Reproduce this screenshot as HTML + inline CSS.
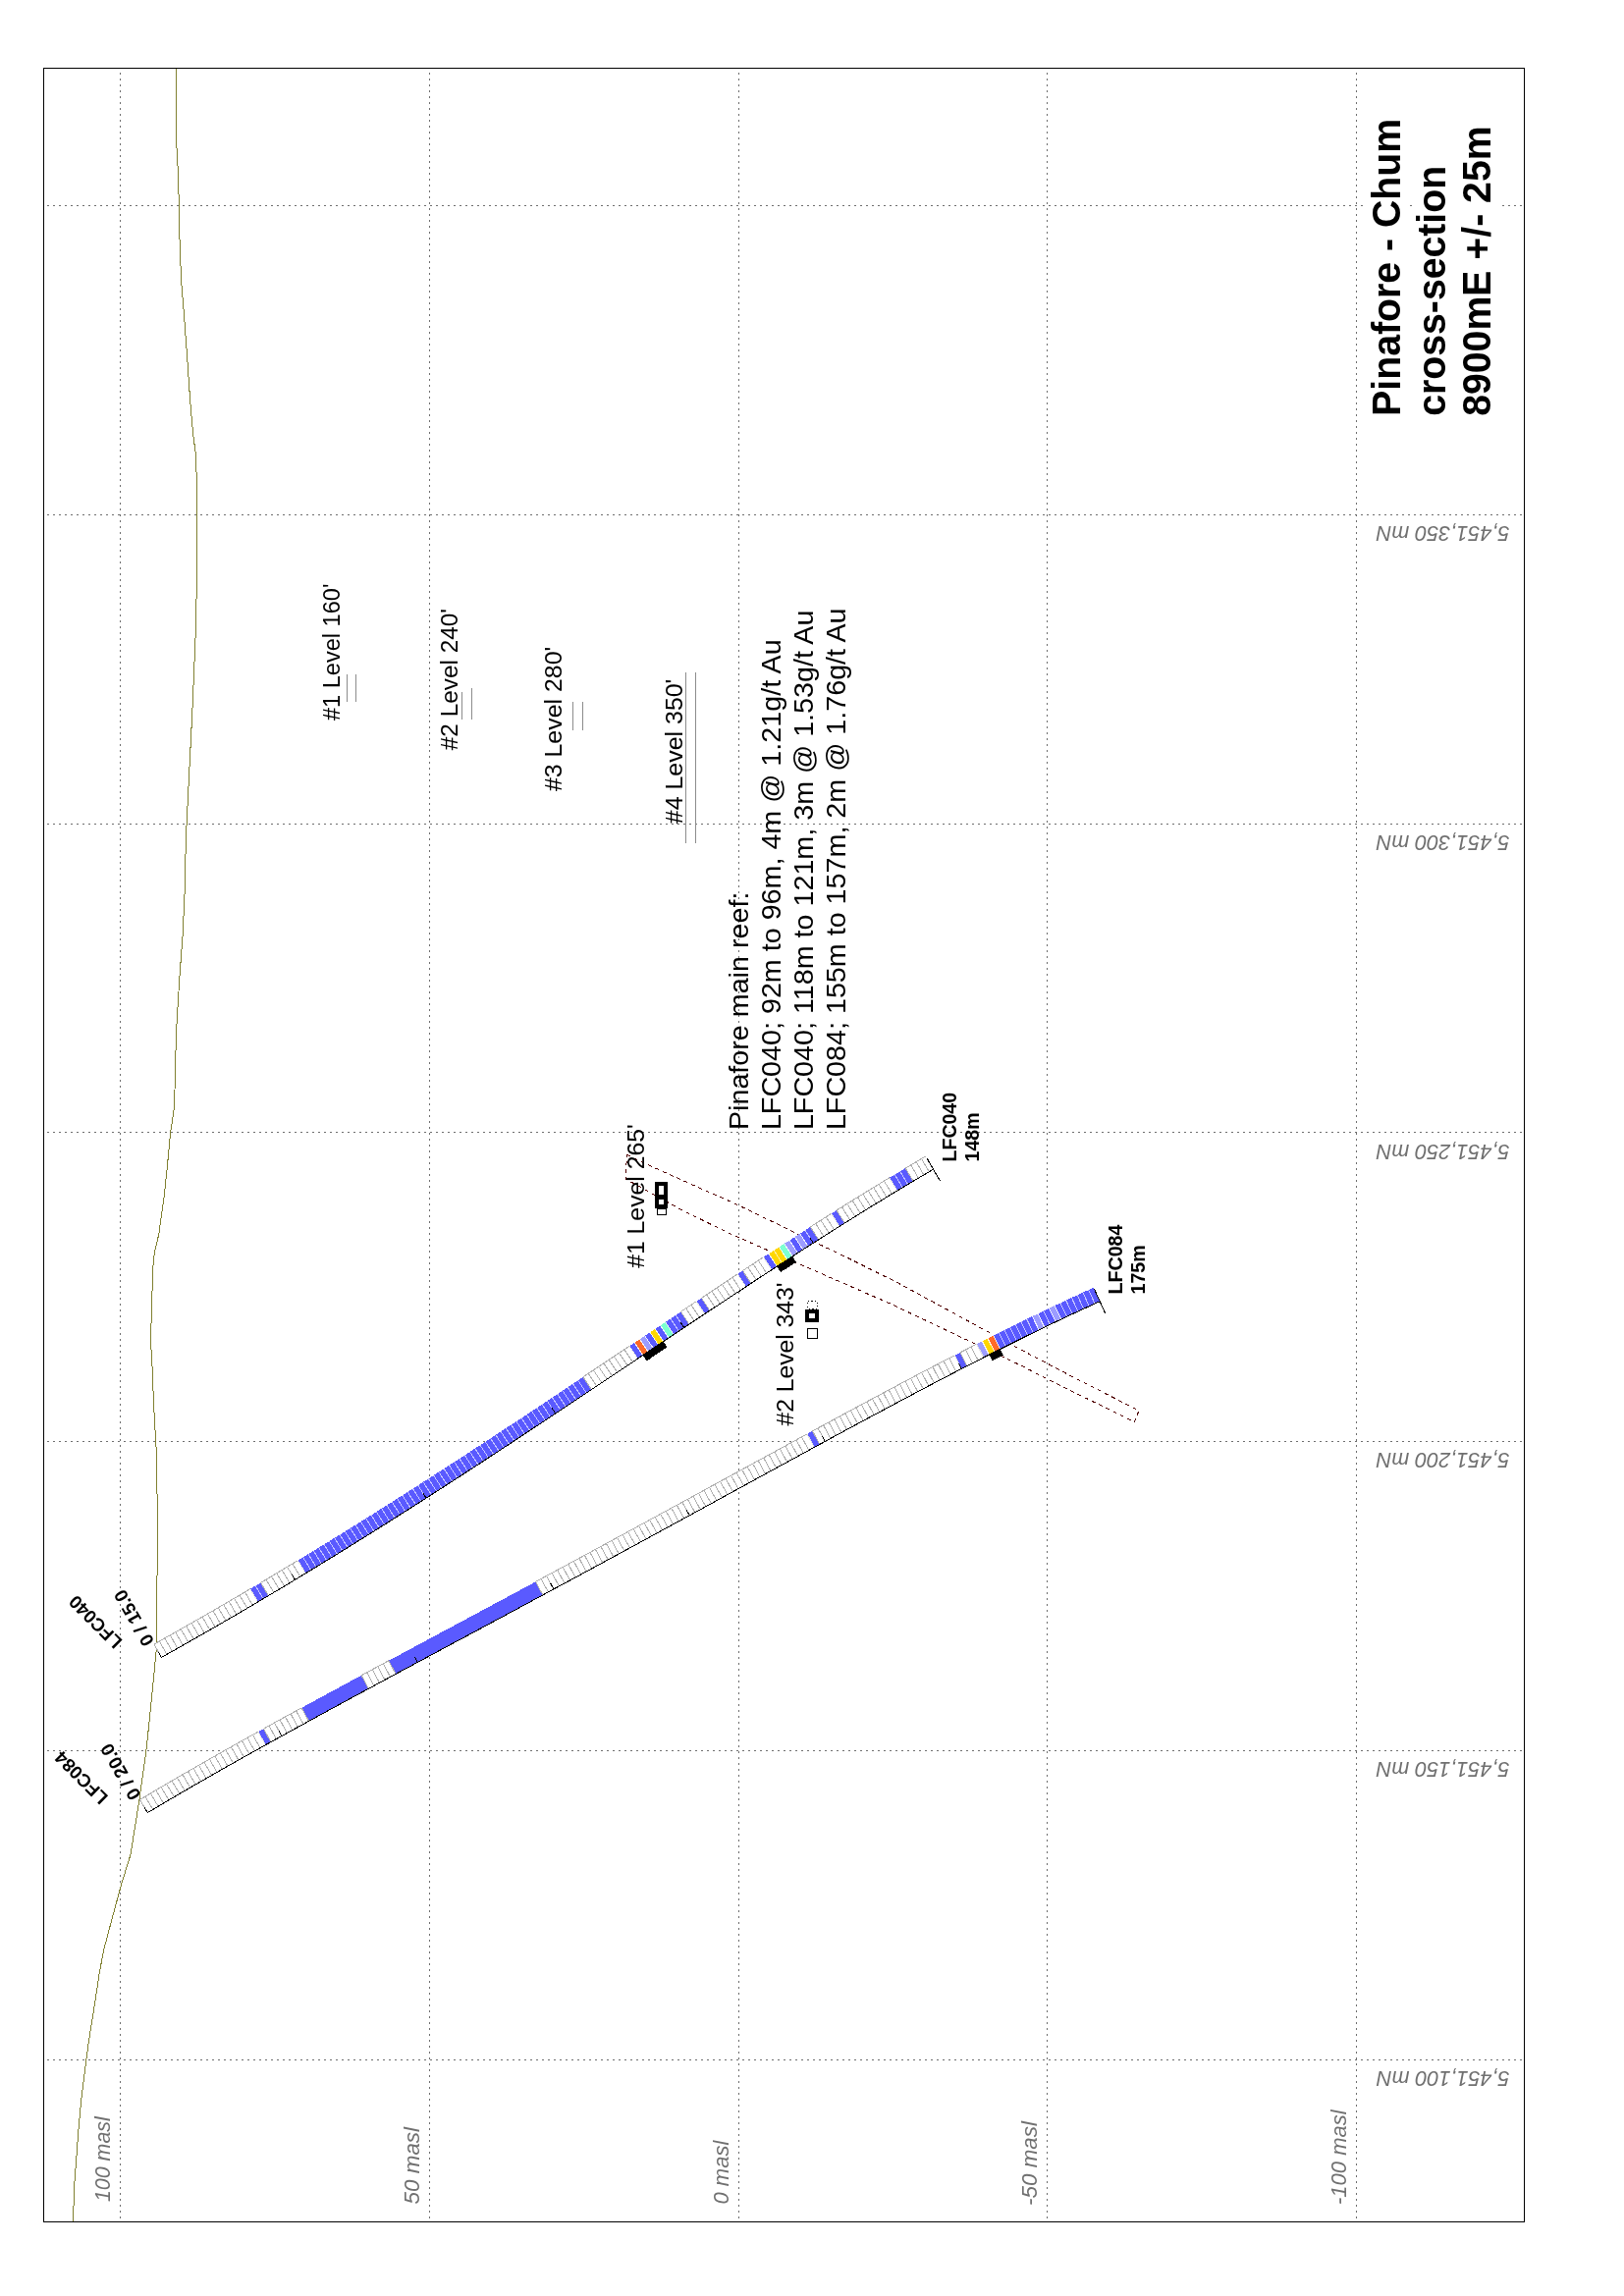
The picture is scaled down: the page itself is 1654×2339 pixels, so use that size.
<!DOCTYPE html>
<html><head><meta charset="utf-8"><title>Pinafore - Chum cross-section</title><style>html,body{margin:0;padding:0;background:#fff;width:1654px;height:2339px;overflow:hidden}svg{display:block;will-change:transform}</style></head><body>
<svg width="1654" height="2339" viewBox="0 0 1654 2339"><style>polyline,polygon,line,path,rect{shape-rendering:crispEdges}</style>
<line x1="122.5" y1="70" x2="122.5" y2="2263" stroke="#6e6e6e" stroke-width="1" stroke-dasharray="2 4" stroke-dashoffset="-4"/>
<line x1="437.5" y1="70" x2="437.5" y2="2263" stroke="#6e6e6e" stroke-width="1" stroke-dasharray="2 4" stroke-dashoffset="-4"/>
<line x1="752.5" y1="70" x2="752.5" y2="2263" stroke="#6e6e6e" stroke-width="1" stroke-dasharray="2 4" stroke-dashoffset="-4"/>
<line x1="1066.5" y1="70" x2="1066.5" y2="2263" stroke="#6e6e6e" stroke-width="1" stroke-dasharray="2 4" stroke-dashoffset="-4"/>
<line x1="1381.5" y1="70" x2="1381.5" y2="2263" stroke="#6e6e6e" stroke-width="1" stroke-dasharray="2 4" stroke-dashoffset="-4"/>
<line x1="45" y1="209.5" x2="1388" y2="209.5" stroke="#6e6e6e" stroke-width="1" stroke-dasharray="2 4" stroke-dashoffset="-3"/>
<line x1="1432" y1="209.5" x2="1438" y2="209.5" stroke="#6e6e6e" stroke-width="1" stroke-dasharray="2 4" stroke-dashoffset="-4"/>
<line x1="1530" y1="209.5" x2="1552" y2="209.5" stroke="#6e6e6e" stroke-width="1" stroke-dasharray="2 4" stroke-dashoffset="-0"/>
<line x1="45" y1="524.5" x2="1552" y2="524.5" stroke="#6e6e6e" stroke-width="1" stroke-dasharray="2 4" stroke-dashoffset="-3"/>
<line x1="45" y1="839.5" x2="1552" y2="839.5" stroke="#6e6e6e" stroke-width="1" stroke-dasharray="2 4" stroke-dashoffset="-3"/>
<line x1="45" y1="1153.5" x2="1552" y2="1153.5" stroke="#6e6e6e" stroke-width="1" stroke-dasharray="2 4" stroke-dashoffset="-3"/>
<line x1="45" y1="1468.5" x2="1552" y2="1468.5" stroke="#6e6e6e" stroke-width="1" stroke-dasharray="2 4" stroke-dashoffset="-3"/>
<line x1="45" y1="1783.5" x2="1552" y2="1783.5" stroke="#6e6e6e" stroke-width="1" stroke-dasharray="2 4" stroke-dashoffset="-3"/>
<line x1="45" y1="2098.5" x2="1552" y2="2098.5" stroke="#6e6e6e" stroke-width="1" stroke-dasharray="2 4" stroke-dashoffset="-3"/>
<rect x="44.5" y="69.5" width="1508" height="2194" fill="none" stroke="#000" stroke-width="1"/>
<polyline points="179.6,69.5 179.6,143.8 181.1,171 182.2,203.7 182.8,238.6 183.9,269 185,290.8 187.2,317 190.4,360.5 193.7,408.4 196.5,441 199.1,460.7 200.2,484.7 200.2,602.3 199.1,648 195.9,724.2 192.6,789.5 189.3,854.9 188.3,905 186.1,952.9 182.8,996.4 179.6,1050 179.1,1066 178,1109.7 177,1131.5 173.7,1153.2 170.4,1188 167.2,1218.6 161.7,1257.8 157.4,1275.2 155.7,1292.6 154.1,1344.9 153.5,1366.7 155.2,1395 156.3,1425.5 157.8,1453.8 159.6,1484.3 160.2,1540 160.2,1577.9 159.8,1638.9 159.1,1682.4 154.8,1726 149.3,1780.4 141.7,1834.9 133,1889.3 123.5,1920 113.2,1958.1 105.5,1987.1 101,2011.5 96.4,2042 90.3,2080.1 87.3,2102.9 83.4,2133.4 80.4,2163.9 78.1,2194.4 75.8,2224.9 74.8,2253.1 74.6,2263" fill="none" stroke="#808030" stroke-width="1"/>
<polygon points="638.5,1176.3 656.9,1185.3 719.9,1213.5 748.4,1226.1 864.4,1282 914.5,1306.9 1041.5,1375.9 1097.6,1405.3 1160,1437 1155.4,1448.5 1070.8,1407.1 1042,1392.1 905,1327.3 861.5,1308.4 744.1,1257.1 693.5,1232.2 637.2,1201" fill="none" stroke="#500000" stroke-width="1" stroke-dasharray="4 4"/>
<polygon points="164.4,1688.45 169.89,1685.38 175.38,1682.29 180.87,1679.2 186.35,1676.1 191.82,1673 197.29,1669.88 202.76,1666.76 208.23,1663.63 213.69,1660.5 219.14,1657.35 224.59,1654.2 230.04,1651.05 235.48,1647.88 240.92,1644.71 246.36,1641.53 251.79,1638.34 257.21,1635.15 262.63,1631.95 254.8,1618.69 249.39,1621.88 243.98,1625.07 238.57,1628.24 233.15,1631.41 227.73,1634.57 222.31,1637.73 216.88,1640.88 211.44,1644.02 206.01,1647.15 200.57,1650.27 195.12,1653.39 189.67,1656.5 184.22,1659.61 178.76,1662.7 173.29,1665.79 167.83,1668.87 162.36,1671.95 156.88,1675.01" fill="#ffffff"/>
<polygon points="262.63,1631.95 268.05,1628.74 273.46,1625.53 265.59,1612.29 260.2,1615.5 254.8,1618.69" fill="#5a5aff"/>
<polygon points="273.46,1625.53 278.87,1622.31 284.28,1619.08 289.68,1615.84 295.08,1612.6 300.47,1609.35 305.86,1606.1 311.25,1602.84 303.26,1589.67 297.89,1592.92 292.52,1596.17 287.14,1599.41 281.76,1602.64 276.38,1605.86 270.99,1609.08 265.59,1612.29" fill="#ffffff"/>
<polygon points="311.25,1602.84 316.63,1599.57 322,1596.29 327.38,1593.01 332.75,1589.73 338.11,1586.43 343.48,1583.13 348.83,1579.83 354.19,1576.51 359.54,1573.19 364.89,1569.87 370.23,1566.54 375.57,1563.2 380.9,1559.86 386.24,1556.52 391.57,1553.16 396.89,1549.8 402.21,1546.44 407.53,1543.07 412.85,1539.7 418.16,1536.32 423.47,1532.93 428.77,1529.54 434.08,1526.15 439.38,1522.75 444.67,1519.35 449.97,1515.94 455.26,1512.52 460.54,1509.11 465.83,1505.68 471.11,1502.26 476.39,1498.83 481.67,1495.39 486.94,1491.96 492.21,1488.51 497.48,1485.07 502.75,1481.62 508.02,1478.17 513.28,1474.71 518.54,1471.25 523.8,1467.79 529.05,1464.32 534.31,1460.86 539.56,1457.38 544.81,1453.91 550.06,1450.43 555.31,1446.96 560.56,1443.48 565.8,1439.99 571.04,1436.51 576.29,1433.02 581.53,1429.53 586.77,1426.04 592,1422.55 597.24,1419.05 602.48,1415.56 593.93,1402.75 588.7,1406.24 583.46,1409.73 578.23,1413.22 572.99,1416.71 567.75,1420.2 562.52,1423.68 557.28,1427.17 552.04,1430.64 546.8,1434.12 541.56,1437.6 536.31,1441.07 531.07,1444.54 525.82,1448.01 520.57,1451.47 515.32,1454.93 510.07,1458.39 504.82,1461.84 499.57,1465.29 494.31,1468.74 489.05,1472.18 483.79,1475.62 478.53,1479.06 473.26,1482.49 468,1485.92 462.73,1489.34 457.45,1492.76 452.18,1496.18 446.9,1499.59 441.62,1502.99 436.34,1506.39 431.06,1509.79 425.77,1513.18 420.48,1516.57 415.18,1519.95 409.89,1523.33 404.59,1526.7 399.28,1530.07 393.98,1533.43 388.67,1536.78 383.36,1540.13 378.04,1543.48 372.72,1546.82 367.4,1550.15 362.08,1553.48 356.75,1556.8 351.41,1560.11 346.08,1563.42 340.74,1566.72 335.4,1570.02 330.05,1573.31 324.7,1576.6 319.34,1579.87 313.99,1583.15 308.63,1586.41 303.26,1589.67" fill="#5a5aff"/>
<polygon points="602.48,1415.56 607.72,1412.06 612.95,1408.57 618.19,1405.07 623.42,1401.57 628.65,1398.07 633.89,1394.57 639.12,1391.07 644.35,1387.57 649.59,1384.07 641.03,1371.27 635.79,1374.77 630.56,1378.27 625.33,1381.77 620.09,1385.27 614.86,1388.77 609.63,1392.26 604.4,1395.76 599.16,1399.26 593.93,1402.75" fill="#ffffff"/>
<polygon points="649.59,1384.07 654.82,1380.57 646.26,1367.77 641.03,1371.27" fill="#5a5aff"/>
<polygon points="654.82,1380.57 660.05,1377.07 651.49,1364.27 646.26,1367.77" fill="#ff6a28"/>
<polygon points="660.05,1377.07 665.29,1373.57 656.73,1360.77 651.49,1364.27" fill="#9d9dff"/>
<polygon points="665.29,1373.57 670.52,1370.07 661.97,1357.27 656.73,1360.77" fill="#5a5aff"/>
<polygon points="670.52,1370.07 675.76,1366.57 667.2,1353.77 661.97,1357.27" fill="#ffd700"/>
<polygon points="675.76,1366.57 680.99,1363.08 672.44,1350.27 667.2,1353.77" fill="#5a5aff"/>
<polygon points="680.99,1363.08 686.23,1359.58 677.68,1346.77 672.44,1350.27" fill="#7dffd0"/>
<polygon points="686.23,1359.58 691.47,1356.09 696.7,1352.59 701.94,1349.1 693.41,1336.28 688.16,1339.78 682.92,1343.27 677.68,1346.77" fill="#5a5aff"/>
<polygon points="701.94,1349.1 707.18,1345.61 712.43,1342.12 717.67,1338.64 709.14,1325.81 703.9,1329.3 698.65,1332.79 693.41,1336.28" fill="#ffffff"/>
<polygon points="717.67,1338.64 722.91,1335.15 714.39,1322.32 709.14,1325.81" fill="#5a5aff"/>
<polygon points="722.91,1335.15 728.16,1331.67 733.41,1328.19 738.66,1324.72 743.91,1321.24 749.16,1317.78 754.42,1314.31 759.68,1310.85 751.21,1297.98 745.94,1301.45 740.68,1304.92 735.42,1308.4 730.16,1311.87 724.9,1315.35 719.65,1318.84 714.39,1322.32" fill="#ffffff"/>
<polygon points="759.68,1310.85 764.94,1307.39 756.48,1294.52 751.21,1297.98" fill="#5a5aff"/>
<polygon points="764.94,1307.39 770.2,1303.93 775.47,1300.48 780.74,1297.04 786.01,1293.6 777.6,1280.7 772.31,1284.15 767.03,1287.6 761.76,1291.06 756.48,1294.52" fill="#ffffff"/>
<polygon points="786.01,1293.6 791.28,1290.16 782.89,1277.25 777.6,1280.7" fill="#5a5aff"/>
<polygon points="791.28,1290.16 796.56,1286.73 801.85,1283.3 793.47,1270.38 788.18,1273.81 782.89,1277.25" fill="#ffd700"/>
<polygon points="801.85,1283.3 807.13,1279.88 798.77,1266.95 793.47,1270.38" fill="#7dffd0"/>
<polygon points="807.13,1279.88 812.42,1276.47 804.08,1263.53 798.77,1266.95" fill="#9d9dff"/>
<polygon points="812.42,1276.47 817.71,1273.06 809.38,1260.11 804.08,1263.53" fill="#5a5aff"/>
<polygon points="817.71,1273.06 823.01,1269.66 814.7,1256.69 809.38,1260.11" fill="#9d9dff"/>
<polygon points="823.01,1269.66 828.31,1266.26 833.62,1262.87 825.34,1249.89 820.02,1253.29 814.7,1256.69" fill="#5a5aff"/>
<polygon points="833.62,1262.87 838.93,1259.49 844.25,1256.12 849.57,1252.75 854.89,1249.39 846.68,1236.36 841.34,1239.73 836,1243.11 830.67,1246.5 825.34,1249.89" fill="#ffffff"/>
<polygon points="854.89,1249.39 860.22,1246.04 852.03,1232.99 846.68,1236.36" fill="#5a5aff"/>
<polygon points="860.22,1246.04 865.55,1242.69 870.89,1239.36 876.24,1236.03 881.59,1232.72 886.95,1229.41 892.31,1226.11 897.68,1222.82 903.06,1219.55 908.44,1216.28 913.83,1213.03 905.88,1199.84 900.47,1203.11 895.06,1206.39 889.66,1209.68 884.26,1212.98 878.87,1216.3 873.49,1219.62 868.12,1222.95 862.75,1226.29 857.39,1229.64 852.03,1232.99" fill="#ffffff"/>
<polygon points="913.83,1213.03 919.23,1209.78 924.63,1206.55 930.04,1203.33 922.18,1190.09 916.74,1193.33 911.31,1196.58 905.88,1199.84" fill="#5a5aff"/>
<polygon points="930.04,1203.33 935.46,1200.12 940.88,1196.93 946.32,1193.75 950.6,1191.25 942.86,1177.94 938.55,1180.45 933.09,1183.65 927.63,1186.86 922.18,1190.09" fill="#ffffff"/>
<polyline points="156.88,1675.01 162.36,1671.95 167.83,1668.87 173.29,1665.79 178.76,1662.7 184.22,1659.61 189.67,1656.5 195.12,1653.39 200.57,1650.27 206.01,1647.15 211.44,1644.02 216.88,1640.88 222.31,1637.73 227.73,1634.57 233.15,1631.41 238.57,1628.24 243.98,1625.07 249.39,1621.88 254.8,1618.69" fill="none" stroke="#b0b0b0" stroke-width="1"/>
<polyline points="265.59,1612.29 270.99,1609.08 276.38,1605.86 281.76,1602.64 287.14,1599.41 292.52,1596.17 297.89,1592.92 303.26,1589.67" fill="none" stroke="#b0b0b0" stroke-width="1"/>
<polyline points="593.93,1402.75 599.16,1399.26 604.4,1395.76 609.63,1392.26 614.86,1388.77 620.09,1385.27 625.33,1381.77 630.56,1378.27 635.79,1374.77 641.03,1371.27" fill="none" stroke="#b0b0b0" stroke-width="1"/>
<polyline points="693.41,1336.28 698.65,1332.79 703.9,1329.3 709.14,1325.81" fill="none" stroke="#b0b0b0" stroke-width="1"/>
<polyline points="714.39,1322.32 719.65,1318.84 724.9,1315.35 730.16,1311.87 735.42,1308.4 740.68,1304.92 745.94,1301.45 751.21,1297.98" fill="none" stroke="#b0b0b0" stroke-width="1"/>
<polyline points="756.48,1294.52 761.76,1291.06 767.03,1287.6 772.31,1284.15 777.6,1280.7" fill="none" stroke="#b0b0b0" stroke-width="1"/>
<polyline points="825.34,1249.89 830.67,1246.5 836,1243.11 841.34,1239.73 846.68,1236.36" fill="none" stroke="#b0b0b0" stroke-width="1"/>
<polyline points="852.03,1232.99 857.39,1229.64 862.75,1226.29 868.12,1222.95 873.49,1219.62 878.87,1216.3 884.26,1212.98 889.66,1209.68 895.06,1206.39 900.47,1203.11 905.88,1199.84" fill="none" stroke="#b0b0b0" stroke-width="1"/>
<polyline points="922.18,1190.09 927.63,1186.86 933.09,1183.65 938.55,1180.45 942.86,1177.94" fill="none" stroke="#b0b0b0" stroke-width="1"/>
<path d="M164.4 1688.45L156.88 1675.01M169.89 1685.38L162.36 1671.95M175.38 1682.29L167.83 1668.87M180.87 1679.2L173.29 1665.79M186.35 1676.1L178.76 1662.7M191.82 1673L184.22 1659.61M197.29 1669.88L189.67 1656.5M202.76 1666.76L195.12 1653.39M208.23 1663.63L200.57 1650.27M213.69 1660.5L206.01 1647.15M219.14 1657.35L211.44 1644.02M224.59 1654.2L216.88 1640.88M230.04 1651.05L222.31 1637.73M235.48 1647.88L227.73 1634.57M240.92 1644.71L233.15 1631.41M246.36 1641.53L238.57 1628.24M251.79 1638.34L243.98 1625.07M257.21 1635.15L249.39 1621.88M262.63 1631.95L254.8 1618.69" stroke="#b0b0b0" stroke-width="1" fill="none"/>
<path d="M262.63 1631.95L254.8 1618.69M268.05 1628.74L260.2 1615.5M273.46 1625.53L265.59 1612.29" stroke="rgba(255,255,255,0.65)" stroke-width="1" fill="none"/>
<path d="M273.46 1625.53L265.59 1612.29M278.87 1622.31L270.99 1609.08M284.28 1619.08L276.38 1605.86M289.68 1615.84L281.76 1602.64M295.08 1612.6L287.14 1599.41M300.47 1609.35L292.52 1596.17M305.86 1606.1L297.89 1592.92M311.25 1602.84L303.26 1589.67" stroke="#b0b0b0" stroke-width="1" fill="none"/>
<path d="M311.25 1602.84L303.26 1589.67M316.63 1599.57L308.63 1586.41M322 1596.29L313.99 1583.15M327.38 1593.01L319.34 1579.87M332.75 1589.73L324.7 1576.6M338.11 1586.43L330.05 1573.31M343.48 1583.13L335.4 1570.02M348.83 1579.83L340.74 1566.72M354.19 1576.51L346.08 1563.42M359.54 1573.19L351.41 1560.11M364.89 1569.87L356.75 1556.8M370.23 1566.54L362.08 1553.48M375.57 1563.2L367.4 1550.15M380.9 1559.86L372.72 1546.82M386.24 1556.52L378.04 1543.48M391.57 1553.16L383.36 1540.13M396.89 1549.8L388.67 1536.78M402.21 1546.44L393.98 1533.43M407.53 1543.07L399.28 1530.07M412.85 1539.7L404.59 1526.7M418.16 1536.32L409.89 1523.33M423.47 1532.93L415.18 1519.95M428.77 1529.54L420.48 1516.57M434.08 1526.15L425.77 1513.18M439.38 1522.75L431.06 1509.79M444.67 1519.35L436.34 1506.39M449.97 1515.94L441.62 1502.99M455.26 1512.52L446.9 1499.59M460.54 1509.11L452.18 1496.18M465.83 1505.68L457.45 1492.76M471.11 1502.26L462.73 1489.34M476.39 1498.83L468 1485.92M481.67 1495.39L473.26 1482.49M486.94 1491.96L478.53 1479.06M492.21 1488.51L483.79 1475.62M497.48 1485.07L489.05 1472.18M502.75 1481.62L494.31 1468.74M508.02 1478.17L499.57 1465.29M513.28 1474.71L504.82 1461.84M518.54 1471.25L510.07 1458.39M523.8 1467.79L515.32 1454.93M529.05 1464.32L520.57 1451.47M534.31 1460.86L525.82 1448.01M539.56 1457.38L531.07 1444.54M544.81 1453.91L536.31 1441.07M550.06 1450.43L541.56 1437.6M555.31 1446.96L546.8 1434.12M560.56 1443.48L552.04 1430.64M565.8 1439.99L557.28 1427.17M571.04 1436.51L562.52 1423.68M576.29 1433.02L567.75 1420.2M581.53 1429.53L572.99 1416.71M586.77 1426.04L578.23 1413.22M592 1422.55L583.46 1409.73M597.24 1419.05L588.7 1406.24M602.48 1415.56L593.93 1402.75" stroke="rgba(255,255,255,0.65)" stroke-width="1" fill="none"/>
<path d="M602.48 1415.56L593.93 1402.75M607.72 1412.06L599.16 1399.26M612.95 1408.57L604.4 1395.76M618.19 1405.07L609.63 1392.26M623.42 1401.57L614.86 1388.77M628.65 1398.07L620.09 1385.27M633.89 1394.57L625.33 1381.77M639.12 1391.07L630.56 1378.27M644.35 1387.57L635.79 1374.77M649.59 1384.07L641.03 1371.27" stroke="#b0b0b0" stroke-width="1" fill="none"/>
<path d="M649.59 1384.07L641.03 1371.27M654.82 1380.57L646.26 1367.77" stroke="rgba(255,255,255,0.65)" stroke-width="1" fill="none"/>
<path d="M654.82 1380.57L646.26 1367.77M660.05 1377.07L651.49 1364.27" stroke="rgba(255,255,255,0.65)" stroke-width="1" fill="none"/>
<path d="M660.05 1377.07L651.49 1364.27M665.29 1373.57L656.73 1360.77" stroke="rgba(255,255,255,0.65)" stroke-width="1" fill="none"/>
<path d="M665.29 1373.57L656.73 1360.77M670.52 1370.07L661.97 1357.27" stroke="rgba(255,255,255,0.65)" stroke-width="1" fill="none"/>
<path d="M670.52 1370.07L661.97 1357.27M675.76 1366.57L667.2 1353.77" stroke="rgba(255,255,255,0.65)" stroke-width="1" fill="none"/>
<path d="M675.76 1366.57L667.2 1353.77M680.99 1363.08L672.44 1350.27" stroke="rgba(255,255,255,0.65)" stroke-width="1" fill="none"/>
<path d="M680.99 1363.08L672.44 1350.27M686.23 1359.58L677.68 1346.77" stroke="rgba(255,255,255,0.65)" stroke-width="1" fill="none"/>
<path d="M686.23 1359.58L677.68 1346.77M691.47 1356.09L682.92 1343.27M696.7 1352.59L688.16 1339.78M701.94 1349.1L693.41 1336.28" stroke="rgba(255,255,255,0.65)" stroke-width="1" fill="none"/>
<path d="M701.94 1349.1L693.41 1336.28M707.18 1345.61L698.65 1332.79M712.43 1342.12L703.9 1329.3M717.67 1338.64L709.14 1325.81" stroke="#b0b0b0" stroke-width="1" fill="none"/>
<path d="M717.67 1338.64L709.14 1325.81M722.91 1335.15L714.39 1322.32" stroke="rgba(255,255,255,0.65)" stroke-width="1" fill="none"/>
<path d="M722.91 1335.15L714.39 1322.32M728.16 1331.67L719.65 1318.84M733.41 1328.19L724.9 1315.35M738.66 1324.72L730.16 1311.87M743.91 1321.24L735.42 1308.4M749.16 1317.78L740.68 1304.92M754.42 1314.31L745.94 1301.45M759.68 1310.85L751.21 1297.98" stroke="#b0b0b0" stroke-width="1" fill="none"/>
<path d="M759.68 1310.85L751.21 1297.98M764.94 1307.39L756.48 1294.52" stroke="rgba(255,255,255,0.65)" stroke-width="1" fill="none"/>
<path d="M764.94 1307.39L756.48 1294.52M770.2 1303.93L761.76 1291.06M775.47 1300.48L767.03 1287.6M780.74 1297.04L772.31 1284.15M786.01 1293.6L777.6 1280.7" stroke="#b0b0b0" stroke-width="1" fill="none"/>
<path d="M786.01 1293.6L777.6 1280.7M791.28 1290.16L782.89 1277.25" stroke="rgba(255,255,255,0.65)" stroke-width="1" fill="none"/>
<path d="M791.28 1290.16L782.89 1277.25M796.56 1286.73L788.18 1273.81M801.85 1283.3L793.47 1270.38" stroke="rgba(255,255,255,0.65)" stroke-width="1" fill="none"/>
<path d="M801.85 1283.3L793.47 1270.38M807.13 1279.88L798.77 1266.95" stroke="rgba(255,255,255,0.65)" stroke-width="1" fill="none"/>
<path d="M807.13 1279.88L798.77 1266.95M812.42 1276.47L804.08 1263.53" stroke="rgba(255,255,255,0.65)" stroke-width="1" fill="none"/>
<path d="M812.42 1276.47L804.08 1263.53M817.71 1273.06L809.38 1260.11" stroke="rgba(255,255,255,0.65)" stroke-width="1" fill="none"/>
<path d="M817.71 1273.06L809.38 1260.11M823.01 1269.66L814.7 1256.69" stroke="rgba(255,255,255,0.65)" stroke-width="1" fill="none"/>
<path d="M823.01 1269.66L814.7 1256.69M828.31 1266.26L820.02 1253.29M833.62 1262.87L825.34 1249.89" stroke="rgba(255,255,255,0.65)" stroke-width="1" fill="none"/>
<path d="M833.62 1262.87L825.34 1249.89M838.93 1259.49L830.67 1246.5M844.25 1256.12L836 1243.11M849.57 1252.75L841.34 1239.73M854.89 1249.39L846.68 1236.36" stroke="#b0b0b0" stroke-width="1" fill="none"/>
<path d="M854.89 1249.39L846.68 1236.36M860.22 1246.04L852.03 1232.99" stroke="rgba(255,255,255,0.65)" stroke-width="1" fill="none"/>
<path d="M860.22 1246.04L852.03 1232.99M865.55 1242.69L857.39 1229.64M870.89 1239.36L862.75 1226.29M876.24 1236.03L868.12 1222.95M881.59 1232.72L873.49 1219.62M886.95 1229.41L878.87 1216.3M892.31 1226.11L884.26 1212.98M897.68 1222.82L889.66 1209.68M903.06 1219.55L895.06 1206.39M908.44 1216.28L900.47 1203.11M913.83 1213.03L905.88 1199.84" stroke="#b0b0b0" stroke-width="1" fill="none"/>
<path d="M913.83 1213.03L905.88 1199.84M919.23 1209.78L911.31 1196.58M924.63 1206.55L916.74 1193.33M930.04 1203.33L922.18 1190.09" stroke="rgba(255,255,255,0.65)" stroke-width="1" fill="none"/>
<path d="M930.04 1203.33L922.18 1190.09M935.46 1200.12L927.63 1186.86M940.88 1196.93L933.09 1183.65M946.32 1193.75L938.55 1180.45" stroke="#b0b0b0" stroke-width="1" fill="none"/>
<polyline points="164.4,1688.45 175.38,1682.29 186.35,1676.1 197.29,1669.88 208.23,1663.63 219.14,1657.35 230.04,1651.05 240.92,1644.71 251.79,1638.34 262.63,1631.95 273.46,1625.53 284.28,1619.08 295.08,1612.6 305.86,1606.1 316.63,1599.57 327.38,1593.01 338.11,1586.43 348.83,1579.83 359.54,1573.19 370.23,1566.54 380.9,1559.86 391.57,1553.16 402.21,1546.44 412.85,1539.7 423.47,1532.93 434.08,1526.15 444.67,1519.35 455.26,1512.52 465.83,1505.68 476.39,1498.83 486.94,1491.96 497.48,1485.07 508.02,1478.17 518.54,1471.25 529.05,1464.32 539.56,1457.38 550.06,1450.43 560.56,1443.48 571.04,1436.51 581.53,1429.53 592,1422.55 602.48,1415.56 612.95,1408.57 623.42,1401.57 633.89,1394.57 644.35,1387.57 654.82,1380.57 665.29,1373.57 675.76,1366.57 686.23,1359.58 696.7,1352.59 707.18,1345.61 717.67,1338.64 728.16,1331.67 738.66,1324.72 749.16,1317.78 759.68,1310.85 770.2,1303.93 780.74,1297.04 791.28,1290.16 801.85,1283.3 812.42,1276.47 823.01,1269.66 833.62,1262.87 844.25,1256.12 854.89,1249.39 865.55,1242.69 876.24,1236.03 886.95,1229.41 897.68,1222.82 908.44,1216.28 919.23,1209.78 930.04,1203.33 940.88,1196.93 950.6,1191.25" fill="none" stroke="#000" stroke-width="1"/>
<line x1="164.4" y1="1688.45" x2="161.23" y2="1682.78" stroke="#000" stroke-width="1"/>
<line x1="300.47" y1="1609.35" x2="297.11" y2="1603.79" stroke="#000" stroke-width="1"/>
<line x1="434.08" y1="1526.15" x2="430.57" y2="1520.68" stroke="#000" stroke-width="1"/>
<line x1="565.8" y1="1439.99" x2="562.2" y2="1434.58" stroke="#000" stroke-width="1"/>
<line x1="696.7" y1="1352.59" x2="693.1" y2="1347.18" stroke="#000" stroke-width="1"/>
<line x1="828.31" y1="1266.26" x2="824.81" y2="1260.79" stroke="#000" stroke-width="1"/>
<line x1="943.82" y1="1179.58" x2="957.28" y2="1202.75" stroke="#000" stroke-width="1"/>
<polygon points="654.82,1380.57 660.05,1377.07 665.29,1373.57 670.52,1370.07 675.76,1366.57 679.65,1372.39 674.41,1375.89 669.18,1379.39 663.95,1382.89 658.71,1386.39" fill="#000"/>
<polygon points="791.28,1290.16 796.56,1286.73 801.85,1283.3 807.13,1279.88 810.93,1285.76 805.65,1289.18 800.38,1292.6 795.1,1296.03" fill="#000"/>
<polygon points="150.3,1846.63 155.71,1843.41 161.12,1840.2 166.54,1836.99 171.97,1833.8 177.4,1830.61 182.83,1827.44 188.28,1824.27 193.72,1821.11 199.17,1817.96 204.63,1814.82 210.09,1811.68 215.55,1808.56 221.02,1805.44 226.5,1802.33 231.97,1799.22 237.46,1796.12 242.94,1793.03 248.43,1789.95 253.92,1786.87 259.42,1783.8 264.91,1780.73 270.42,1777.67 262.94,1764.21 257.42,1767.28 251.91,1770.35 246.4,1773.43 240.89,1776.52 235.39,1779.61 229.89,1782.71 224.39,1785.82 218.89,1788.93 213.4,1792.06 207.92,1795.18 202.43,1798.32 196.95,1801.47 191.48,1804.62 186.01,1807.78 180.54,1810.95 175.08,1814.13 169.62,1817.32 164.16,1820.52 158.72,1823.73 153.27,1826.95 147.83,1830.17 142.4,1833.41" fill="#ffffff"/>
<polygon points="270.42,1777.67 275.92,1774.61 268.45,1761.15 262.94,1764.21" fill="#5a5aff"/>
<polygon points="275.92,1774.61 281.43,1771.56 286.94,1768.52 292.45,1765.48 297.97,1762.44 303.49,1759.41 309.01,1756.38 314.53,1753.36 307.14,1739.85 301.6,1742.88 296.07,1745.91 290.55,1748.95 285.02,1751.99 279.5,1755.04 273.97,1758.09 268.45,1761.15" fill="#ffffff"/>
<polygon points="314.53,1753.36 320.05,1750.34 325.58,1747.32 331.11,1744.31 336.64,1741.3 342.17,1738.29 347.7,1735.29 353.24,1732.29 358.77,1729.29 364.31,1726.29 369.85,1723.3 375.39,1720.31 368.07,1706.76 362.53,1709.75 356.98,1712.75 351.44,1715.75 345.9,1718.75 340.36,1721.75 334.82,1724.76 329.28,1727.77 323.74,1730.78 318.21,1733.8 312.67,1736.82 307.14,1739.85" fill="#5a5aff"/>
<polygon points="375.39,1720.31 380.93,1717.32 386.47,1714.33 392.01,1711.34 397.56,1708.36 403.1,1705.37 395.81,1691.81 390.26,1694.8 384.71,1697.78 379.16,1700.77 373.62,1703.76 368.07,1706.76" fill="#ffffff"/>
<polygon points="403.1,1705.37 408.65,1702.39 414.19,1699.41 419.74,1696.43 425.28,1693.45 430.83,1690.47 436.38,1687.49 441.92,1684.51 447.47,1681.54 453.02,1678.56 458.57,1675.58 464.11,1672.6 469.66,1669.63 475.21,1666.65 480.76,1663.67 486.3,1660.69 491.85,1657.72 497.4,1654.74 502.94,1651.76 508.49,1648.78 514.04,1645.8 519.58,1642.81 525.13,1639.83 530.67,1636.85 536.21,1633.86 541.76,1630.88 547.3,1627.89 552.84,1624.9 545.53,1611.35 539.99,1614.34 534.45,1617.32 528.91,1620.3 523.37,1623.29 517.83,1626.27 512.29,1629.25 506.74,1632.23 501.2,1635.21 495.65,1638.19 490.11,1641.17 484.56,1644.15 479.02,1647.13 473.47,1650.1 467.93,1653.08 462.38,1656.06 456.83,1659.04 451.28,1662.01 445.74,1664.99 440.19,1667.97 434.64,1670.95 429.09,1673.92 423.54,1676.9 418,1679.88 412.45,1682.86 406.9,1685.85 401.35,1688.83 395.81,1691.81" fill="#5a5aff"/>
<polygon points="552.84,1624.9 558.38,1621.92 563.92,1618.93 569.46,1615.94 575,1612.94 580.54,1609.95 586.08,1606.96 591.62,1603.96 597.16,1600.96 602.69,1597.97 608.23,1594.97 613.76,1591.96 619.3,1588.96 624.83,1585.96 630.36,1582.96 635.9,1579.95 641.43,1576.94 646.96,1573.93 652.49,1570.93 658.02,1567.92 663.55,1564.9 669.08,1561.89 674.6,1558.88 680.13,1555.86 685.66,1552.85 691.18,1549.83 696.71,1546.82 702.24,1543.8 707.76,1540.78 713.29,1537.76 718.81,1534.74 724.34,1531.72 729.86,1528.7 735.39,1525.68 740.91,1522.66 746.43,1519.64 751.96,1516.62 757.48,1513.6 763.01,1510.58 768.53,1507.56 774.05,1504.54 779.58,1501.52 785.1,1498.5 790.63,1495.48 796.16,1492.47 801.68,1489.45 807.21,1486.44 812.74,1483.42 818.27,1480.41 823.8,1477.4 829.33,1474.39 821.97,1460.86 816.43,1463.87 810.9,1466.89 805.37,1469.9 799.84,1472.92 794.31,1475.93 788.78,1478.95 783.25,1481.97 777.72,1484.99 772.2,1488.01 766.67,1491.03 761.14,1494.05 755.62,1497.07 750.09,1500.09 744.57,1503.11 739.04,1506.13 733.52,1509.15 728,1512.17 722.47,1515.19 716.95,1518.21 711.43,1521.23 705.9,1524.25 700.38,1527.27 694.86,1530.28 689.33,1533.3 683.81,1536.32 678.28,1539.33 672.76,1542.34 667.23,1545.36 661.71,1548.37 656.18,1551.38 650.65,1554.39 645.13,1557.4 639.6,1560.41 634.07,1563.41 628.54,1566.42 623.01,1569.42 617.48,1572.43 611.95,1575.43 606.42,1578.43 600.89,1581.43 595.36,1584.42 589.82,1587.42 584.29,1590.42 578.75,1593.41 573.22,1596.4 567.68,1599.39 562.15,1602.38 556.61,1605.37 551.07,1608.36 545.53,1611.35" fill="#ffffff"/>
<polygon points="829.33,1474.39 834.86,1471.38 827.5,1457.85 821.97,1460.86" fill="#5a5aff"/>
<polygon points="834.86,1471.38 840.39,1468.38 845.92,1465.37 851.46,1462.37 856.99,1459.38 862.53,1456.38 868.07,1453.39 873.61,1450.4 879.15,1447.41 884.7,1444.43 890.25,1441.45 895.79,1438.47 901.34,1435.5 906.9,1432.53 912.45,1429.57 918.01,1426.61 923.57,1423.65 929.13,1420.71 934.7,1417.76 940.27,1414.82 945.84,1411.89 951.41,1408.96 956.99,1406.04 962.57,1403.13 968.16,1400.22 973.74,1397.32 979.34,1394.43 972.27,1380.75 966.66,1383.65 961.05,1386.56 955.45,1389.48 949.85,1392.4 944.26,1395.33 938.67,1398.26 933.09,1401.2 927.5,1404.15 921.92,1407.1 916.35,1410.05 910.78,1413.01 905.21,1415.98 899.64,1418.95 894.08,1421.92 888.52,1424.9 882.96,1427.88 877.41,1430.86 871.85,1433.85 866.3,1436.84 860.75,1439.84 855.21,1442.83 849.66,1445.83 844.12,1448.83 838.58,1451.84 833.04,1454.84 827.5,1457.85" fill="#ffffff"/>
<polygon points="979.34,1394.43 984.93,1391.55 977.89,1377.85 972.27,1380.75" fill="#5a5aff"/>
<polygon points="984.93,1391.55 990.53,1388.67 996.14,1385.8 1001.75,1382.94 994.76,1369.22 989.13,1372.09 983.51,1374.97 977.89,1377.85" fill="#ffffff"/>
<polygon points="1001.75,1382.94 1007.36,1380.09 1000.4,1366.35 994.76,1369.22" fill="#9d9dff"/>
<polygon points="1007.36,1380.09 1012.98,1377.25 1006.04,1363.5 1000.4,1366.35" fill="#ffd700"/>
<polygon points="1012.98,1377.25 1018.6,1374.42 1011.68,1360.66 1006.04,1363.5" fill="#ff6a28"/>
<polygon points="1018.6,1374.42 1024.23,1371.59 1029.86,1368.78 1035.5,1365.98 1041.14,1363.19 1046.79,1360.41 1052.45,1357.64 1058.11,1354.88 1051.38,1341.03 1045.69,1343.8 1040.01,1346.58 1034.33,1349.38 1028.66,1352.18 1022.99,1355 1017.34,1357.82 1011.68,1360.66" fill="#5a5aff"/>
<polygon points="1058.11,1354.88 1063.77,1352.14 1057.08,1338.27 1051.38,1341.03" fill="#9d9dff"/>
<polygon points="1063.77,1352.14 1069.45,1349.41 1075.12,1346.69 1068.49,1332.79 1062.78,1335.52 1057.08,1338.27" fill="#5a5aff"/>
<polygon points="1075.12,1346.69 1080.81,1343.98 1074.21,1330.07 1068.49,1332.79" fill="#9d9dff"/>
<polygon points="1080.81,1343.98 1086.5,1341.29 1092.2,1338.62 1097.91,1335.96 1103.62,1333.31 1109.34,1330.68 1115.07,1328.07 1120.2,1325.74 1113.86,1311.71 1108.7,1314.05 1102.93,1316.68 1097.17,1319.33 1091.42,1321.99 1085.67,1324.67 1079.94,1327.36 1074.21,1330.07" fill="#5a5aff"/>
<polyline points="142.4,1833.41 147.83,1830.17 153.27,1826.95 158.72,1823.73 164.16,1820.52 169.62,1817.32 175.08,1814.13 180.54,1810.95 186.01,1807.78 191.48,1804.62 196.95,1801.47 202.43,1798.32 207.92,1795.18 213.4,1792.06 218.89,1788.93 224.39,1785.82 229.89,1782.71 235.39,1779.61 240.89,1776.52 246.4,1773.43 251.91,1770.35 257.42,1767.28 262.94,1764.21" fill="none" stroke="#b0b0b0" stroke-width="1"/>
<polyline points="268.45,1761.15 273.97,1758.09 279.5,1755.04 285.02,1751.99 290.55,1748.95 296.07,1745.91 301.6,1742.88 307.14,1739.85" fill="none" stroke="#b0b0b0" stroke-width="1"/>
<polyline points="368.07,1706.76 373.62,1703.76 379.16,1700.77 384.71,1697.78 390.26,1694.8 395.81,1691.81" fill="none" stroke="#b0b0b0" stroke-width="1"/>
<polyline points="545.53,1611.35 551.07,1608.36 556.61,1605.37 562.15,1602.38 567.68,1599.39 573.22,1596.4 578.75,1593.41 584.29,1590.42 589.82,1587.42 595.36,1584.42 600.89,1581.43 606.42,1578.43 611.95,1575.43 617.48,1572.43 623.01,1569.42 628.54,1566.42 634.07,1563.41 639.6,1560.41 645.13,1557.4 650.65,1554.39 656.18,1551.38 661.71,1548.37 667.23,1545.36 672.76,1542.34 678.28,1539.33 683.81,1536.32 689.33,1533.3 694.86,1530.28 700.38,1527.27 705.9,1524.25 711.43,1521.23 716.95,1518.21 722.47,1515.19 728,1512.17 733.52,1509.15 739.04,1506.13 744.57,1503.11 750.09,1500.09 755.62,1497.07 761.14,1494.05 766.67,1491.03 772.2,1488.01 777.72,1484.99 783.25,1481.97 788.78,1478.95 794.31,1475.93 799.84,1472.92 805.37,1469.9 810.9,1466.89 816.43,1463.87 821.97,1460.86" fill="none" stroke="#b0b0b0" stroke-width="1"/>
<polyline points="827.5,1457.85 833.04,1454.84 838.58,1451.84 844.12,1448.83 849.66,1445.83 855.21,1442.83 860.75,1439.84 866.3,1436.84 871.85,1433.85 877.41,1430.86 882.96,1427.88 888.52,1424.9 894.08,1421.92 899.64,1418.95 905.21,1415.98 910.78,1413.01 916.35,1410.05 921.92,1407.1 927.5,1404.15 933.09,1401.2 938.67,1398.26 944.26,1395.33 949.85,1392.4 955.45,1389.48 961.05,1386.56 966.66,1383.65 972.27,1380.75" fill="none" stroke="#b0b0b0" stroke-width="1"/>
<polyline points="977.89,1377.85 983.51,1374.97 989.13,1372.09 994.76,1369.22" fill="none" stroke="#b0b0b0" stroke-width="1"/>
<path d="M150.3 1846.63L142.4 1833.41M155.71 1843.41L147.83 1830.17M161.12 1840.2L153.27 1826.95M166.54 1836.99L158.72 1823.73M171.97 1833.8L164.16 1820.52M177.4 1830.61L169.62 1817.32M182.83 1827.44L175.08 1814.13M188.28 1824.27L180.54 1810.95M193.72 1821.11L186.01 1807.78M199.17 1817.96L191.48 1804.62M204.63 1814.82L196.95 1801.47M210.09 1811.68L202.43 1798.32M215.55 1808.56L207.92 1795.18M221.02 1805.44L213.4 1792.06M226.5 1802.33L218.89 1788.93M231.97 1799.22L224.39 1785.82M237.46 1796.12L229.89 1782.71M242.94 1793.03L235.39 1779.61M248.43 1789.95L240.89 1776.52M253.92 1786.87L246.4 1773.43M259.42 1783.8L251.91 1770.35M264.91 1780.73L257.42 1767.28M270.42 1777.67L262.94 1764.21" stroke="#b0b0b0" stroke-width="1" fill="none"/>
<path d="M270.42 1777.67L262.94 1764.21M275.92 1774.61L268.45 1761.15" stroke="rgba(255,255,255,0.65)" stroke-width="1" fill="none"/>
<path d="M275.92 1774.61L268.45 1761.15M281.43 1771.56L273.97 1758.09M286.94 1768.52L279.5 1755.04M292.45 1765.48L285.02 1751.99M297.97 1762.44L290.55 1748.95M303.49 1759.41L296.07 1745.91M309.01 1756.38L301.6 1742.88M314.53 1753.36L307.14 1739.85" stroke="#b0b0b0" stroke-width="1" fill="none"/>
<path d="M375.39 1720.31L368.07 1706.76M380.93 1717.32L373.62 1703.76M386.47 1714.33L379.16 1700.77M392.01 1711.34L384.71 1697.78M397.56 1708.36L390.26 1694.8M403.1 1705.37L395.81 1691.81" stroke="#b0b0b0" stroke-width="1" fill="none"/>
<path d="M552.84 1624.9L545.53 1611.35M558.38 1621.92L551.07 1608.36M563.92 1618.93L556.61 1605.37M569.46 1615.94L562.15 1602.38M575 1612.94L567.68 1599.39M580.54 1609.95L573.22 1596.4M586.08 1606.96L578.75 1593.41M591.62 1603.96L584.29 1590.42M597.16 1600.96L589.82 1587.42M602.69 1597.97L595.36 1584.42M608.23 1594.97L600.89 1581.43M613.76 1591.96L606.42 1578.43M619.3 1588.96L611.95 1575.43M624.83 1585.96L617.48 1572.43M630.36 1582.96L623.01 1569.42M635.9 1579.95L628.54 1566.42M641.43 1576.94L634.07 1563.41M646.96 1573.93L639.6 1560.41M652.49 1570.93L645.13 1557.4M658.02 1567.92L650.65 1554.39M663.55 1564.9L656.18 1551.38M669.08 1561.89L661.71 1548.37M674.6 1558.88L667.23 1545.36M680.13 1555.86L672.76 1542.34M685.66 1552.85L678.28 1539.33M691.18 1549.83L683.81 1536.32M696.71 1546.82L689.33 1533.3M702.24 1543.8L694.86 1530.28M707.76 1540.78L700.38 1527.27M713.29 1537.76L705.9 1524.25M718.81 1534.74L711.43 1521.23M724.34 1531.72L716.95 1518.21M729.86 1528.7L722.47 1515.19M735.39 1525.68L728 1512.17M740.91 1522.66L733.52 1509.15M746.43 1519.64L739.04 1506.13M751.96 1516.62L744.57 1503.11M757.48 1513.6L750.09 1500.09M763.01 1510.58L755.62 1497.07M768.53 1507.56L761.14 1494.05M774.05 1504.54L766.67 1491.03M779.58 1501.52L772.2 1488.01M785.1 1498.5L777.72 1484.99M790.63 1495.48L783.25 1481.97M796.16 1492.47L788.78 1478.95M801.68 1489.45L794.31 1475.93M807.21 1486.44L799.84 1472.92M812.74 1483.42L805.37 1469.9M818.27 1480.41L810.9 1466.89M823.8 1477.4L816.43 1463.87M829.33 1474.39L821.97 1460.86" stroke="#b0b0b0" stroke-width="1" fill="none"/>
<path d="M829.33 1474.39L821.97 1460.86M834.86 1471.38L827.5 1457.85" stroke="rgba(255,255,255,0.65)" stroke-width="1" fill="none"/>
<path d="M834.86 1471.38L827.5 1457.85M840.39 1468.38L833.04 1454.84M845.92 1465.37L838.58 1451.84M851.46 1462.37L844.12 1448.83M856.99 1459.38L849.66 1445.83M862.53 1456.38L855.21 1442.83M868.07 1453.39L860.75 1439.84M873.61 1450.4L866.3 1436.84M879.15 1447.41L871.85 1433.85M884.7 1444.43L877.41 1430.86M890.25 1441.45L882.96 1427.88M895.79 1438.47L888.52 1424.9M901.34 1435.5L894.08 1421.92M906.9 1432.53L899.64 1418.95M912.45 1429.57L905.21 1415.98M918.01 1426.61L910.78 1413.01M923.57 1423.65L916.35 1410.05M929.13 1420.71L921.92 1407.1M934.7 1417.76L927.5 1404.15M940.27 1414.82L933.09 1401.2M945.84 1411.89L938.67 1398.26M951.41 1408.96L944.26 1395.33M956.99 1406.04L949.85 1392.4M962.57 1403.13L955.45 1389.48M968.16 1400.22L961.05 1386.56M973.74 1397.32L966.66 1383.65M979.34 1394.43L972.27 1380.75" stroke="#b0b0b0" stroke-width="1" fill="none"/>
<path d="M979.34 1394.43L972.27 1380.75M984.93 1391.55L977.89 1377.85" stroke="rgba(255,255,255,0.65)" stroke-width="1" fill="none"/>
<path d="M984.93 1391.55L977.89 1377.85M990.53 1388.67L983.51 1374.97M996.14 1385.8L989.13 1372.09M1001.75 1382.94L994.76 1369.22" stroke="#b0b0b0" stroke-width="1" fill="none"/>
<path d="M1001.75 1382.94L994.76 1369.22M1007.36 1380.09L1000.4 1366.35" stroke="rgba(255,255,255,0.65)" stroke-width="1" fill="none"/>
<path d="M1007.36 1380.09L1000.4 1366.35M1012.98 1377.25L1006.04 1363.5" stroke="rgba(255,255,255,0.65)" stroke-width="1" fill="none"/>
<path d="M1012.98 1377.25L1006.04 1363.5M1018.6 1374.42L1011.68 1360.66" stroke="rgba(255,255,255,0.65)" stroke-width="1" fill="none"/>
<path d="M1018.6 1374.42L1011.68 1360.66M1024.23 1371.59L1017.34 1357.82M1029.86 1368.78L1022.99 1355M1035.5 1365.98L1028.66 1352.18M1041.14 1363.19L1034.33 1349.38M1046.79 1360.41L1040.01 1346.58M1052.45 1357.64L1045.69 1343.8M1058.11 1354.88L1051.38 1341.03" stroke="rgba(255,255,255,0.65)" stroke-width="1" fill="none"/>
<path d="M1058.11 1354.88L1051.38 1341.03M1063.77 1352.14L1057.08 1338.27" stroke="rgba(255,255,255,0.65)" stroke-width="1" fill="none"/>
<path d="M1063.77 1352.14L1057.08 1338.27M1069.45 1349.41L1062.78 1335.52M1075.12 1346.69L1068.49 1332.79" stroke="rgba(255,255,255,0.65)" stroke-width="1" fill="none"/>
<path d="M1075.12 1346.69L1068.49 1332.79M1080.81 1343.98L1074.21 1330.07" stroke="rgba(255,255,255,0.65)" stroke-width="1" fill="none"/>
<path d="M1080.81 1343.98L1074.21 1330.07M1086.5 1341.29L1079.94 1327.36M1092.2 1338.62L1085.67 1324.67M1097.91 1335.96L1091.42 1321.99M1103.62 1333.31L1097.17 1319.33M1109.34 1330.68L1102.93 1316.68M1115.07 1328.07L1108.7 1314.05" stroke="rgba(255,255,255,0.65)" stroke-width="1" fill="none"/>
<polyline points="150.3,1846.63 161.12,1840.2 171.97,1833.8 182.83,1827.44 193.72,1821.11 204.63,1814.82 215.55,1808.56 226.5,1802.33 237.46,1796.12 248.43,1789.95 259.42,1783.8 270.42,1777.67 281.43,1771.56 292.45,1765.48 303.49,1759.41 314.53,1753.36 325.58,1747.32 336.64,1741.3 347.7,1735.29 358.77,1729.29 369.85,1723.3 380.93,1717.32 392.01,1711.34 403.1,1705.37 414.19,1699.41 425.28,1693.45 436.38,1687.49 447.47,1681.54 458.57,1675.58 469.66,1669.63 480.76,1663.67 491.85,1657.72 502.94,1651.76 514.04,1645.8 525.13,1639.83 536.21,1633.86 547.3,1627.89 558.38,1621.92 569.46,1615.94 580.54,1609.95 591.62,1603.96 602.69,1597.97 613.76,1591.96 624.83,1585.96 635.9,1579.95 646.96,1573.93 658.02,1567.92 669.08,1561.89 680.13,1555.86 691.18,1549.83 702.24,1543.8 713.29,1537.76 724.34,1531.72 735.39,1525.68 746.43,1519.64 757.48,1513.6 768.53,1507.56 779.58,1501.52 790.63,1495.48 801.68,1489.45 812.74,1483.42 823.8,1477.4 834.86,1471.38 845.92,1465.37 856.99,1459.38 868.07,1453.39 879.15,1447.41 890.25,1441.45 901.34,1435.5 912.45,1429.57 923.57,1423.65 934.7,1417.76 945.84,1411.89 956.99,1406.04 968.16,1400.22 979.34,1394.43 990.53,1388.67 1001.75,1382.94 1012.98,1377.25 1024.23,1371.59 1035.5,1365.98 1046.79,1360.41 1058.11,1354.88 1069.45,1349.41 1080.81,1343.98 1092.2,1338.62 1103.62,1333.31 1115.07,1328.07 1120.2,1325.74" fill="none" stroke="#000" stroke-width="1"/>
<line x1="150.3" y1="1846.63" x2="146.97" y2="1841.05" stroke="#000" stroke-width="1"/>
<line x1="286.94" y1="1768.52" x2="283.8" y2="1762.83" stroke="#000" stroke-width="1"/>
<line x1="425.28" y1="1693.45" x2="422.21" y2="1687.72" stroke="#000" stroke-width="1"/>
<line x1="563.92" y1="1618.93" x2="560.84" y2="1613.21" stroke="#000" stroke-width="1"/>
<line x1="702.24" y1="1543.8" x2="699.12" y2="1538.09" stroke="#000" stroke-width="1"/>
<line x1="840.39" y1="1468.38" x2="837.29" y2="1462.67" stroke="#000" stroke-width="1"/>
<line x1="979.34" y1="1394.43" x2="976.35" y2="1388.66" stroke="#000" stroke-width="1"/>
<line x1="1114.65" y1="1313.44" x2="1125.67" y2="1337.86" stroke="#000" stroke-width="1"/>
<polygon points="1007.36,1380.09 1012.98,1377.25 1018.6,1374.42 1021.74,1380.67 1016.13,1383.5 1010.52,1386.33" fill="#000"/>
<line x1="353.5" y1="687" x2="353.5" y2="714.9" stroke="#8c8c8c" stroke-width="1"/>
<line x1="362.5" y1="687" x2="362.5" y2="714.9" stroke="#8c8c8c" stroke-width="1"/>
<line x1="470.5" y1="705.3" x2="470.5" y2="732.7" stroke="#8c8c8c" stroke-width="1"/>
<line x1="480.5" y1="701" x2="480.5" y2="732.7" stroke="#8c8c8c" stroke-width="1"/>
<line x1="583.5" y1="715.1" x2="583.5" y2="743.7" stroke="#8c8c8c" stroke-width="1"/>
<line x1="593.5" y1="715.1" x2="593.5" y2="743.7" stroke="#8c8c8c" stroke-width="1"/>
<line x1="698.5" y1="685.3" x2="698.5" y2="858.7" stroke="#8c8c8c" stroke-width="1"/>
<line x1="708.5" y1="685.3" x2="708.5" y2="858.7" stroke="#8c8c8c" stroke-width="1"/>
<rect x="669.2" y="1205.8" width="8.8" height="12.8" fill="none" stroke="#000" stroke-width="3.5"/>
<rect x="669.2" y="1220.6" width="8.8" height="8.6" fill="none" stroke="#000" stroke-width="3.5"/>
<rect x="669.6" y="1231.8" width="9" height="5.6" fill="none" stroke="#000" stroke-width="1"/>
<rect x="822.7" y="1325.7" width="9.9" height="7.6" fill="none" stroke="#000" stroke-width="1" stroke-dasharray="1.2 2.4"/>
<rect x="822.2" y="1336" width="9.8" height="8.8" fill="none" stroke="#000" stroke-width="3.5"/>
<rect x="822.7" y="1353.8" width="9.5" height="9.4" fill="none" stroke="#000" stroke-width="1"/>
<text id="title" transform="translate(1426.2 423.8) rotate(-90) scale(0.9756 1)" fill="#000" style="font-family:'Liberation Sans',sans-serif;font-size:40.2px;font-weight:bold;" xml:space="preserve"><tspan x="0" y="0">Pinafore - Chum</tspan><tspan x="0" y="45.9">cross-section</tspan><tspan x="0" y="91.8">8900mE +/- 25m</tspan></text>
<text id="end040" transform="translate(974 1183.4) rotate(-90) scale(1.0060 1)" fill="#000" style="font-family:'Liberation Sans',sans-serif;font-size:19.4px;font-weight:bold;" xml:space="preserve"><tspan x="0" y="0">LFC040</tspan><tspan x="0" y="23">148m</tspan></text>
<text id="end084" transform="translate(1143 1318.5) rotate(-90) scale(1.0133 1)" fill="#000" style="font-family:'Liberation Sans',sans-serif;font-size:19.4px;font-weight:bold;" xml:space="preserve"><tspan x="0" y="0">LFC084</tspan><tspan x="0" y="23">175m</tspan></text>
<text id="lv160" transform="translate(346.1 734.1) rotate(-90) scale(0.9517 1)" fill="#000" style="font-family:'Liberation Sans',sans-serif;font-size:24.8px;" xml:space="preserve"><tspan x="0" y="0">#1 Level 160'</tspan></text>
<text id="lv240" transform="translate(466.1 764.2) rotate(-90) scale(0.9829 1)" fill="#000" style="font-family:'Liberation Sans',sans-serif;font-size:24.8px;" xml:space="preserve"><tspan x="0" y="0">#2 Level 240'</tspan></text>
<text id="lv280" transform="translate(572 806.1) rotate(-90) scale(1.0048 1)" fill="#000" style="font-family:'Liberation Sans',sans-serif;font-size:24.8px;" xml:space="preserve"><tspan x="0" y="0">#3 Level 280'</tspan></text>
<text id="lv350" transform="translate(695.3 839.2) rotate(-90) scale(1.0063 1)" fill="#000" style="font-family:'Liberation Sans',sans-serif;font-size:24.8px;" xml:space="preserve"><tspan x="0" y="0">#4 Level 350'</tspan></text>
<text id="lv265" transform="translate(655.9 1291.8) rotate(-90) scale(0.9986 1)" fill="#000" style="font-family:'Liberation Sans',sans-serif;font-size:24.8px;" xml:space="preserve"><tspan x="0" y="0">#1 Level 265'</tspan></text>
<text id="lv343" transform="translate(808 1452.6) rotate(-90) scale(0.9959 1)" fill="#000" style="font-family:'Liberation Sans',sans-serif;font-size:24.8px;" xml:space="preserve"><tspan x="0" y="0">#2 Level 343'</tspan></text>
<text id="annot" transform="translate(761.9 1151.1) rotate(-90) scale(1.0106 1)" fill="#000" style="font-family:'Liberation Sans',sans-serif;font-size:28.4px;" xml:space="preserve"><tspan x="0" y="0">Pinafore main reef:</tspan><tspan x="0" y="33.1">LFC040; 92m to 96m, 4m @ 1.21g/t Au</tspan><tspan x="0" y="66.2">LFC040; 118m to 121m, 3m @ 1.53g/t Au</tspan><tspan x="0" y="99.3">LFC084; 155m to 157m, 2m @ 1.76g/t Au</tspan></text>
<text id="m100" transform="translate(112 2243.1) rotate(-90) scale(0.9742 1)" fill="#707070" style="font-family:'Liberation Sans',sans-serif;font-size:22px;font-style:italic;" xml:space="preserve"><tspan x="0" y="0">100 masl</tspan></text>
<text id="m50" transform="translate(427 2245.4) rotate(-90) scale(1.0185 1)" fill="#707070" style="font-family:'Liberation Sans',sans-serif;font-size:22px;font-style:italic;" xml:space="preserve"><tspan x="0" y="0">50 masl</tspan></text>
<text id="m0" transform="translate(741.9 2245.5) rotate(-90)" fill="#707070" style="font-family:'Liberation Sans',sans-serif;font-size:22px;font-style:italic;" xml:space="preserve"><tspan x="0" y="0">0 masl</tspan></text>
<text id="mm50" transform="translate(1055.9 2246.9) rotate(-90) scale(1.0180 1)" fill="#707070" style="font-family:'Liberation Sans',sans-serif;font-size:22px;font-style:italic;" xml:space="preserve"><tspan x="0" y="0">-50 masl</tspan></text>
<text id="mm100" transform="translate(1370.8 2246) rotate(-90)" fill="#707070" style="font-family:'Liberation Sans',sans-serif;font-size:22px;font-style:italic;" xml:space="preserve"><tspan x="0" y="0">-100 masl</tspan></text>
<text id="n350" transform="translate(1537.4 536) rotate(180) scale(0.9826 1)" fill="#707070" style="font-family:'Liberation Sans',sans-serif;font-size:22px;font-style:italic;" xml:space="preserve"><tspan x="0" y="0">5,451,350 mN</tspan></text>
<text id="n300" transform="translate(1537.4 850.8) rotate(180) scale(0.9826 1)" fill="#707070" style="font-family:'Liberation Sans',sans-serif;font-size:22px;font-style:italic;" xml:space="preserve"><tspan x="0" y="0">5,451,300 mN</tspan></text>
<text id="n250" transform="translate(1537.4 1165.6) rotate(180) scale(0.9826 1)" fill="#707070" style="font-family:'Liberation Sans',sans-serif;font-size:22px;font-style:italic;" xml:space="preserve"><tspan x="0" y="0">5,451,250 mN</tspan></text>
<text id="n200" transform="translate(1537.4 1480.4) rotate(180) scale(0.9826 1)" fill="#707070" style="font-family:'Liberation Sans',sans-serif;font-size:22px;font-style:italic;" xml:space="preserve"><tspan x="0" y="0">5,451,200 mN</tspan></text>
<text id="n150" transform="translate(1537.4 1795.2) rotate(180) scale(0.9826 1)" fill="#707070" style="font-family:'Liberation Sans',sans-serif;font-size:22px;font-style:italic;" xml:space="preserve"><tspan x="0" y="0">5,451,150 mN</tspan></text>
<text id="n100" transform="translate(1537.5 2110) rotate(180) scale(0.9818 1)" fill="#707070" style="font-family:'Liberation Sans',sans-serif;font-size:22px;font-style:italic;" xml:space="preserve"><tspan x="0" y="0">5,451,100 mN</tspan></text>
<text id="c040" transform="translate(125.4 1671.5) rotate(-135)" fill="#000" style="font-family:'Liberation Sans',sans-serif;font-size:18.6px;font-weight:bold;" xml:space="preserve"><tspan x="0" y="0">LFC040</tspan></text>
<text id="c084" transform="translate(111 1830.3) rotate(-135)" fill="#000" style="font-family:'Liberation Sans',sans-serif;font-size:18.6px;font-weight:bold;" xml:space="preserve"><tspan x="0" y="0">LFC084</tspan></text>
<text id="d040" transform="translate(157.6 1672.3) rotate(-119.7)" fill="#000" style="font-family:'Liberation Sans',sans-serif;font-size:18.8px;font-weight:bold;" xml:space="preserve"><tspan x="0" y="0">0 / 15.0</tspan></text>
<text id="d084" transform="translate(143.9 1829.1) rotate(-119.7)" fill="#000" style="font-family:'Liberation Sans',sans-serif;font-size:18.8px;font-weight:bold;" xml:space="preserve"><tspan x="0" y="0">0 / 20.0</tspan></text>
</svg>
</body></html>
